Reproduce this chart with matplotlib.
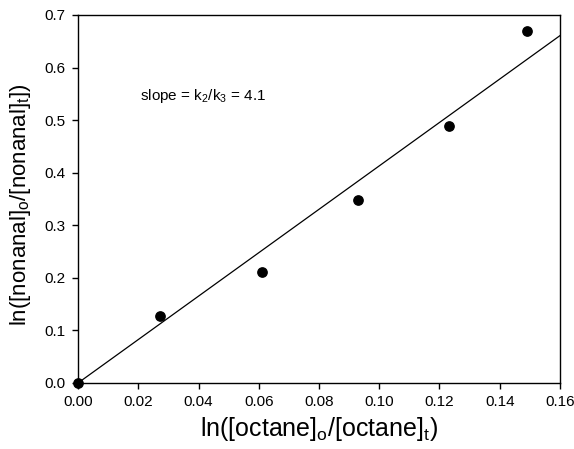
import matplotlib
matplotlib.use("Agg")
import matplotlib.pyplot as plt
import numpy as np

plt.rcParams['font.family'] = ['Liberation Sans', 'DejaVu Sans']
plt.rcParams['mathtext.fontset'] = 'custom'
plt.rcParams['mathtext.rm'] = 'Liberation Sans'
plt.rcParams['mathtext.it'] = 'Liberation Sans'

x_vals = [0.0, 0.0272, 0.061, 0.093, 0.123, 0.149]
y_vals = [0.0, 0.127, 0.211, 0.348, 0.489, 0.669]
slope = 4.13
x_ticks = [0.00, 0.02, 0.04, 0.06, 0.08, 0.10, 0.12, 0.14, 0.16]
y_ticks = [0.0, 0.1, 0.2, 0.3, 0.4, 0.5, 0.6, 0.7]

fig = plt.figure(figsize=(5.74, 4.49), dpi=100)
ax = fig.add_axes([0.1359, 0.147, 0.8397, 0.8196])

xl = np.array([0.0, 0.16])
ax.plot(xl, slope * xl, color='black', lw=0.9)
ax.scatter(x_vals, y_vals, s=45, color='black', zorder=3, clip_on=False)

ax.set_xlim(0, 0.16)
ax.set_ylim(0, 0.7)
ax.set_xticks(x_ticks)
ax.set_xticklabels([f"{v:.2f}" for v in x_ticks])
ax.set_yticks(y_ticks)
ax.set_yticklabels([f"{v:.1f}" for v in y_ticks])
ax.tick_params(direction='out', length=4, width=1, labelsize=11, pad=5)
for s in ax.spines.values():
    s.set_linewidth(1)

ax.text(0.0205, 0.546, r'slope = k$_2$/k$_3$ = 4.1', fontsize=11, va='center', ha='left')
ax.set_xlabel(r'ln([octane]$_\mathregular{o}$/[octane]$_\mathregular{t}$)', fontsize=18, labelpad=4)
ax.set_ylabel(r'ln([nonanal]$_\mathregular{o}$/[nonanal]$_\mathregular{t}$])', fontsize=16, labelpad=8, y=0.484)

fig.savefig('out.png', dpi=100)
